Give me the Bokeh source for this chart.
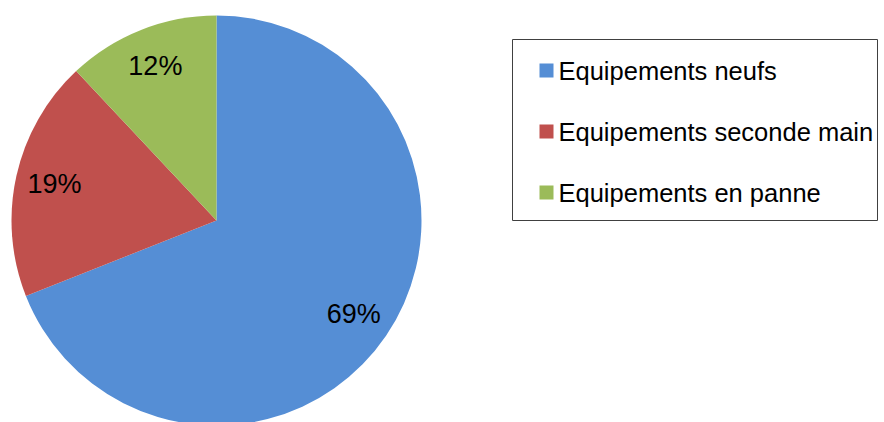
import math
from bokeh.plotting import figure
from bokeh.models import Range1d, ColumnDataSource
from bokeh.core.properties import value
from bokeh.embed import file_html
from bokeh.resources import INLINE

# Data
categories = ["Equipements neufs", "Equipements seconde main", "Equipements en panne"]
shares = [69, 19, 12]
colors = ["#558ED5", "#C0504D", "#9BBB59"]

W, H = 884, 422
p = figure(width=W, height=H, output_backend="svg", toolbar_location=None,
           x_range=Range1d(0, W), y_range=Range1d(0, H), min_border=0)
p.axis.visible = False
p.grid.visible = False
p.outline_line_color = None
p.background_fill_color = "white"
p.border_fill_color = "white"

cx, cy, R = 216, 202, 205
total = sum(shares)
starts, ends, lx, ly, labels = [], [], [], [], []
acc = 0.0
for s in shares:
    a0 = math.pi / 2 - 2 * math.pi * acc / total
    a1 = math.pi / 2 - 2 * math.pi * (acc + s) / total
    starts.append(a0)
    ends.append(a1)
    mid = (a0 + a1) / 2
    lx.append(cx + 0.81 * R * math.cos(mid))
    ly.append(cy + 0.81 * R * math.sin(mid))
    labels.append(f"{round(100 * s / total)}%")
    acc += s

src = ColumnDataSource(dict(start=starts, end=ends, color=colors, name=categories))
p.wedge(x=cx, y=cy, radius=R, start_angle="start", end_angle="end",
        direction="clock", fill_color="color", line_color=None, source=src)

p.text(x=lx, y=ly, text=labels, text_align="center", text_baseline="middle",
       text_font=value("Liberation Sans"), text_font_size="27px", text_color="#000000")

# Legend (drawn manually)
p.quad(left=512, right=877, bottom=202, top=383, fill_color="white",
       line_color="#404040", line_width=1)
ys = [352 - 61 * i for i in range(len(categories))]
p.rect(x=[546] * len(categories), y=ys, width=14, height=14,
       fill_color=colors, line_color=None)
p.text(x=[558] * len(categories), y=ys, text=categories, text_align="left",
       text_baseline="middle", text_font=value("Liberation Sans"),
       text_font_size="25.5px", text_color="#000000")

open("out.html", "w").write(file_html(p, INLINE))
